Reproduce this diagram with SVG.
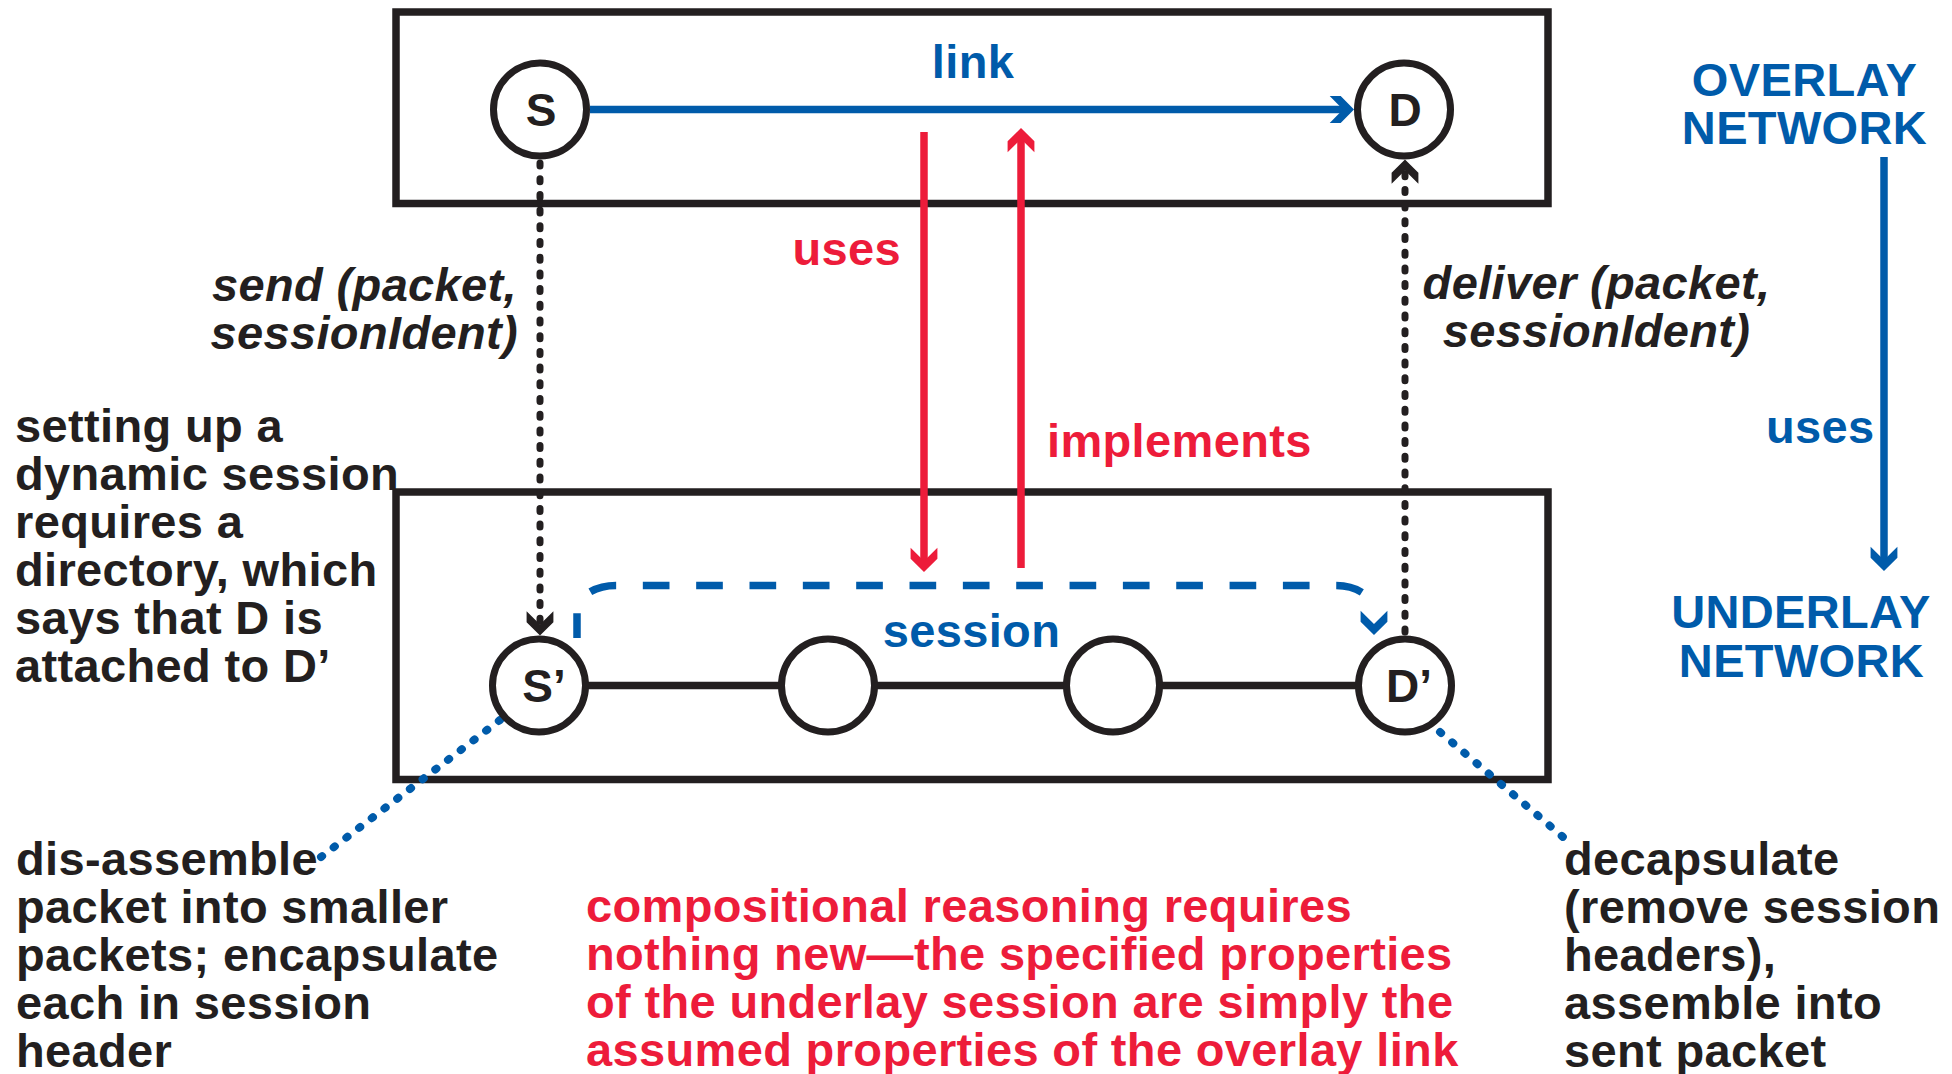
<svg xmlns="http://www.w3.org/2000/svg" width="1952" height="1074" viewBox="0 0 1952 1074">
  <style>
    text { font-family: "Liberation Sans", Arial, sans-serif; font-weight: bold; font-size: 47px; letter-spacing: 0.35px; }
    .k { fill: #231F20; }
    .b { fill: #005BAA; }
    .r { fill: #ED1C3A; }
    .it { font-style: italic; }
    .mid { text-anchor: middle; }
    .end { text-anchor: end; }
    .node circle { fill: #FFFFFF; stroke: #231F20; stroke-width: 7; }
    .node text { font-size: 46px; fill: #231F20; text-anchor: middle; letter-spacing: 0; }
    .box { fill: none; stroke: #231F20; stroke-width: 7.5; }
    .solid { fill: none; stroke-width: 7.5; }
    .dots { fill: none; stroke: #231F20; stroke-width: 7; stroke-linecap: round; stroke-dasharray: 3 12.7; }
    .bdots { fill: none; stroke: #005BAA; stroke-width: 8; stroke-linecap: round; stroke-dasharray: 1.5 14.5; }
    .dash { fill: none; stroke: #005BAA; stroke-width: 7.5; stroke-dasharray: 26.67 26.67; stroke-dashoffset: 1.8; }
  </style>
  <defs>
    <!-- chevron head, tip at origin, pointing along +x -->
    <path id="chev" d="M0,0 L-13.3,13.4 L-24.3,13.4 L-11,0 L-24.3,-13.4 L-13.3,-13.4 Z"/>
    <marker id="hBlue" viewBox="-26 -15 28 30" refX="-6" refY="0" markerWidth="28" markerHeight="30" markerUnits="userSpaceOnUse" orient="auto">
      <use href="#chev" fill="#005BAA"/>
    </marker>
    <marker id="hRed" viewBox="-26 -15 28 30" refX="-6" refY="0" markerWidth="28" markerHeight="30" markerUnits="userSpaceOnUse" orient="auto">
      <use href="#chev" fill="#ED1C3A"/>
    </marker>
    <marker id="hBlack" viewBox="-26 -15 28 30" refX="-6" refY="0" markerWidth="28" markerHeight="30" markerUnits="userSpaceOnUse" orient="auto">
      <use href="#chev" fill="#231F20"/>
    </marker>
    <marker id="hSession" viewBox="-26 -15 28 30" refX="-24" refY="0" markerWidth="28" markerHeight="30" markerUnits="userSpaceOnUse" orient="auto" overflow="visible">
      <use href="#chev" fill="#005BAA"/>
    </marker>
  </defs>

  <!-- network layers -->
  <g id="overlay-box"><rect class="box" x="396" y="12" width="1152" height="191.5"/></g>
  <g id="underlay-box"><rect class="box" x="396" y="492" width="1152" height="287.5"/></g>

  <!-- connectors -->
  <g id="connectors">
    <!-- physical path through the underlay -->
    <path class="solid" stroke="#231F20" d="M539,685.5 H1405"/>
    <!-- overlay link S to D -->
    <path class="solid" stroke="#005BAA" marker-end="url(#hBlue)" d="M590,109.5 H1348"/>
    <!-- uses / implements -->
    <path class="solid" stroke="#ED1C3A" marker-end="url(#hRed)" d="M924,132 V566"/>
    <path class="solid" stroke="#ED1C3A" marker-end="url(#hRed)" d="M1021,568 V134"/>
    <!-- overlay uses underlay -->
    <path class="solid" stroke="#005BAA" marker-end="url(#hBlue)" d="M1884,157 V565"/>
    <!-- send / deliver calls -->
    <path class="dots" marker-end="url(#hBlack)" d="M540,163 V629.5"/>
    <path class="dots" marker-end="url(#hBlack)" d="M1405,632 V165.5"/>
    <!-- session S' to D' -->
    <path class="dash" marker-end="url(#hSession)" d="M577,638 V611 A39,25.5 0 0 1 616,585.5 H1336 A38,25.5 0 0 1 1374,611"/>
    <!-- annotation leaders -->
    <path class="bdots" d="M500,720 L321,857"/>
    <path class="bdots" d="M1440,732 L1563,837"/>
  </g>

  <!-- nodes -->
  <g id="node-S" class="node"><circle cx="540" cy="109.5" r="46.5"/><text x="541" y="126">S</text></g>
  <g id="node-D" class="node"><circle cx="1404" cy="109.5" r="46.5"/><text x="1405" y="126">D</text></g>
  <g id="node-S2" class="node"><circle cx="539" cy="685.5" r="46.5"/><text x="544" y="702">S’</text></g>
  <g id="node-R1" class="node"><circle cx="828" cy="685.5" r="46.5"/></g>
  <g id="node-R2" class="node"><circle cx="1113" cy="685.5" r="46.5"/></g>
  <g id="node-D2" class="node"><circle cx="1405" cy="685.5" r="46.5"/><text x="1409" y="702">D’</text></g>

  <!-- labels -->
  <g id="labels">
    <text class="b mid" x="973" y="78">link</text>
    <text class="b mid" x="971.5" y="647">session</text>
    <text class="r end" x="901" y="265">uses</text>
    <text class="r" x="1047" y="457">implements</text>
    <text class="b end" x="1874.5" y="443">uses</text>

    <text class="b mid" x="1804.5" y="95.5">OVERLAY</text>
    <text class="b mid" x="1804.5" y="143.5">NETWORK</text>
    <text class="b mid" x="1801" y="628">UNDERLAY</text>
    <text class="b mid" x="1801.5" y="677">NETWORK</text>

    <text class="k it end" x="517" y="301">send (packet,</text>
    <text class="k it end" x="518" y="349">sessionIdent)</text>
    <text class="k it mid" x="1596.5" y="298.5">deliver (packet,</text>
    <text class="k it mid" x="1596.5" y="346.5">sessionIdent)</text>

    <text class="k" x="15" y="442">setting up a</text>
    <text class="k" x="15" y="490">dynamic session</text>
    <text class="k" x="15" y="538">requires a</text>
    <text class="k" x="15" y="586">directory, which</text>
    <text class="k" x="15" y="634">says that D is</text>
    <text class="k" x="15" y="682">attached to D’</text>

    <text class="k" x="16" y="875">dis-assemble</text>
    <text class="k" x="16" y="923">packet into smaller</text>
    <text class="k" x="16" y="971">packets; encapsulate</text>
    <text class="k" x="16" y="1019">each in session</text>
    <text class="k" x="16" y="1067">header</text>

    <text class="r" x="586" y="922">compositional reasoning requires</text>
    <text class="r" x="586" y="970">nothing new—the specified properties</text>
    <text class="r" x="586" y="1018">of the underlay session are simply the</text>
    <text class="r" x="586" y="1066">assumed properties of the overlay link</text>

    <text class="k" x="1564" y="875">decapsulate</text>
    <text class="k" x="1564" y="923">(remove session</text>
    <text class="k" x="1564" y="971">headers),</text>
    <text class="k" x="1564" y="1019">assemble into</text>
    <text class="k" x="1564" y="1067">sent packet</text>
  </g>
</svg>
